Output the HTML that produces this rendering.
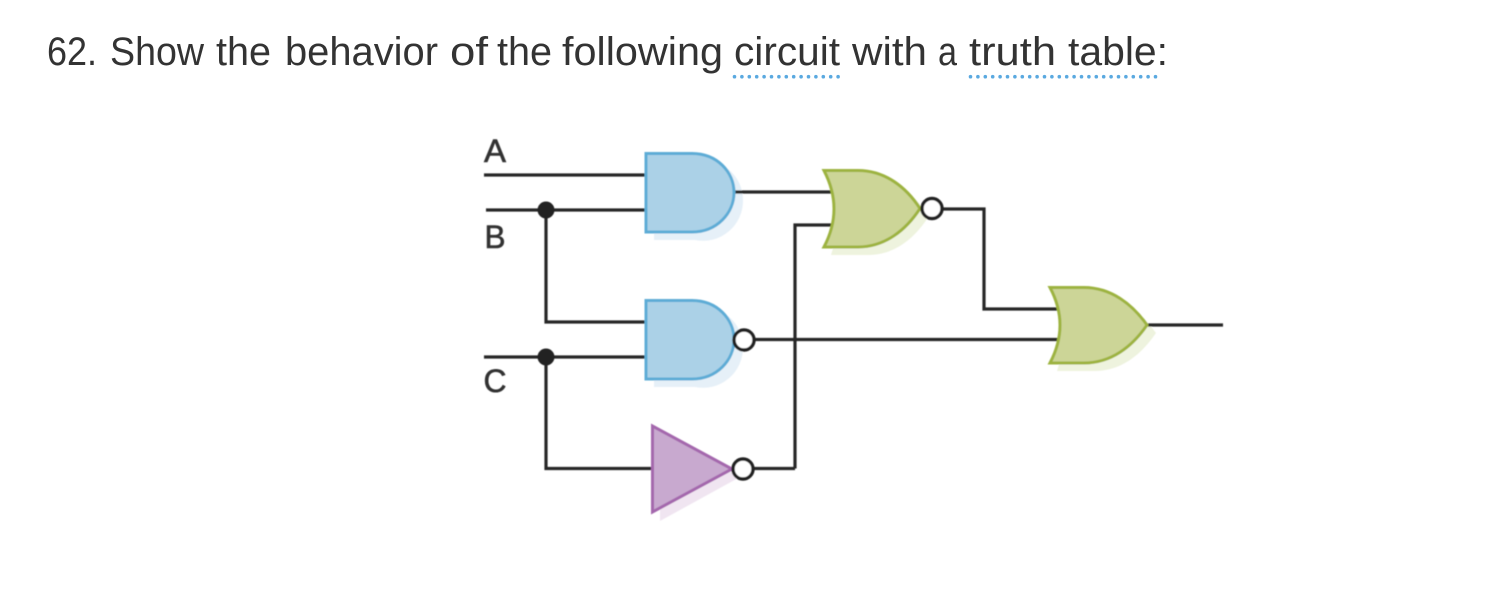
<!DOCTYPE html>
<html><head><meta charset="utf-8"><style>
html,body{margin:0;padding:0;background:#fff;width:1494px;height:612px;overflow:hidden}
svg{display:block}
text{font-family:"Liberation Sans",sans-serif}
.w{font-size:40px;fill:#333}
.l{font-size:32px;fill:#333;stroke:#333;stroke-width:.6}
.wire{fill:none;stroke:#262626;stroke-width:3.2;stroke-linejoin:miter}
</style></head><body>
<svg width="1494" height="612" viewBox="0 0 1494 612" xmlns="http://www.w3.org/2000/svg">
<defs><filter id="s" x="-5%" y="-5%" width="110%" height="110%"><feGaussianBlur stdDeviation="0.6"/></filter></defs>
<g>
<text class="w" x="47" y="65" textLength="50" lengthAdjust="spacingAndGlyphs">62.</text>
<text class="w" x="110" y="65" textLength="94" lengthAdjust="spacingAndGlyphs">Show</text>
<text class="w" x="216" y="65" textLength="55" lengthAdjust="spacingAndGlyphs">the</text>
<text class="w" x="285" y="65" textLength="153" lengthAdjust="spacingAndGlyphs">behavior</text>
<text class="w" x="450" y="65" textLength="38" lengthAdjust="spacingAndGlyphs">of</text>
<text class="w" x="497" y="65" textLength="55" lengthAdjust="spacingAndGlyphs">the</text>
<text class="w" x="562" y="65" textLength="161" lengthAdjust="spacingAndGlyphs">following</text>
<text class="w" x="734" y="65" textLength="106" lengthAdjust="spacingAndGlyphs">circuit</text>
<text class="w" x="852" y="65" textLength="75" lengthAdjust="spacingAndGlyphs">with</text>
<text class="w" x="938" y="65" textLength="19" lengthAdjust="spacingAndGlyphs">a</text>
<text class="w" x="969" y="65" textLength="87" lengthAdjust="spacingAndGlyphs">truth</text>
<text class="w" x="1068" y="65" textLength="100" lengthAdjust="spacingAndGlyphs">table:</text>
</g>
<path d="M734.5 76.7H840M970.5 76.7H1156" fill="none" stroke="#5aa9e0" stroke-width="3.6" stroke-linecap="round" stroke-dasharray="0 7.4"/>
<g filter="url(#s)">
<!-- shadows -->
<path d="M654 161H695A40 39.500 0 0 1 743 200A40 40 0 0 1 695 240H654Z" fill="#e6f0f8"/>
<path d="M654 308H695A40 39.500 0 0 1 743 347A40 40 0 0 1 695 387H654Z" fill="#e6f0f8"/>
<path d="M831 255Q842 224 831 178H868C895 178 915 195 929 216C915 238 895 255 868 255Z" fill="#eef3de"/>
<path d="M1057 371Q1068 340 1057 295H1094C1121 295 1141 312 1156 333C1141 355 1121 371 1094 371Z" fill="#eef3de"/>
<path d="M660 433V521L740 477Z" fill="#f0e5f1"/>
<!-- wires -->
<path class="wire" d="M484 175H646M486 210H646M546 210V322H646M484 357H646M546 357V468.500H653M735 192H835M795 468.500V225H834M754 339.500H1062M942 209H984V309H1062M1148 325H1223M753 468.500H795"/>
<circle cx="546" cy="210" r="8.500" fill="#222"/>
<circle cx="546" cy="357" r="8.500" fill="#222"/>
<!-- gates -->
<path d="M646 153.500H692C717 153.500 734 172 734 192.500C734 213 717 232 692 232H646Z" fill="#abd1e7" stroke="#5dacd6" stroke-width="3"/>
<path d="M646 300.500H692C717 300.500 734 319 734 339.500C734 360 717 379 692 379H646Z" fill="#abd1e7" stroke="#5dacd6" stroke-width="3"/>
<path d="M824 170.500H858C885 170.500 906 187 920 208.500C906 230 885 247 858 247H824Q844 209 824 170.500Z" fill="#ccd597" stroke="#9db340" stroke-width="3"/>
<path d="M1050 287.500H1084C1111 287.500 1132 304 1147 325C1132 347 1111 363 1084 363H1050Q1070 325 1050 287.500Z" fill="#ccd597" stroke="#9db340" stroke-width="3"/>
<path d="M652.500 426V512L732 469Z" fill="#c8a9cf" stroke="#a468ad" stroke-width="3"/>
<circle cx="744" cy="340" r="10" fill="#fff" stroke="#222" stroke-width="3.400"/>
<circle cx="932" cy="208.500" r="10" fill="#fff" stroke="#222" stroke-width="3.400"/>
<circle cx="743" cy="469" r="10" fill="#fff" stroke="#222" stroke-width="3.400"/>
<text class="l" x="484" y="162" textLength="22" lengthAdjust="spacingAndGlyphs">A</text>
<text class="l" x="484.500" y="248" textLength="21" lengthAdjust="spacingAndGlyphs">B</text>
<text class="l" x="483.500" y="392" textLength="23" lengthAdjust="spacingAndGlyphs">C</text>
</g>
</svg>
</body></html>
